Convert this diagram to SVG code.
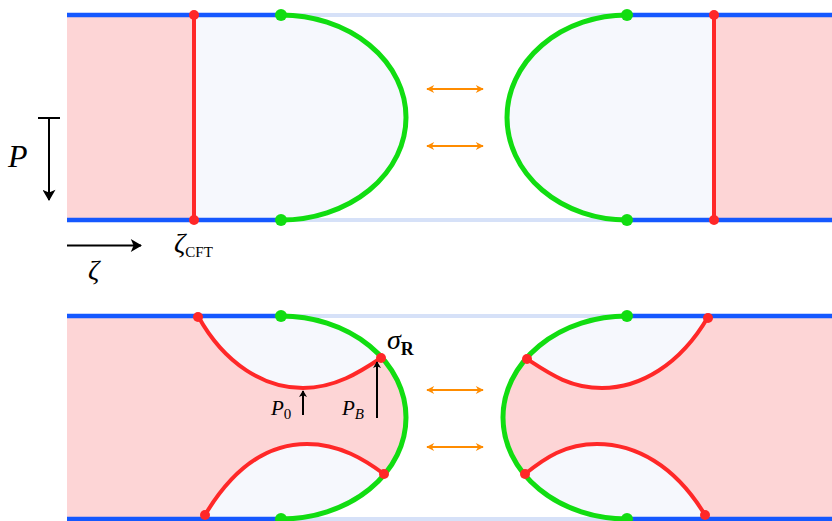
<svg xmlns="http://www.w3.org/2000/svg" width="832" height="521" viewBox="0 0 832 521">
<defs>
<style>
.thick{stroke:#1558ff;stroke-width:4.5;fill:none}
.faint{stroke:#d6e1f8;stroke-width:4;fill:none}
.green{stroke:#11dd11;stroke-width:5;fill:none}
.red{stroke:#ff2828;stroke-width:4;fill:none}
.pink{fill:#fdd5d6;stroke:none}
.lblue{fill:#f6f8fd;stroke:none}
.gdot{fill:#11dd11}
.rdot{fill:#ff2828}
.orange{stroke:#ff8c00;stroke-width:2;fill:none;marker-start:url(#oh);marker-end:url(#oh)}
.blk{stroke:#000;stroke-width:2;fill:none}
text{fill:#000;font-family:"Times New Roman","Liberation Serif","DejaVu Serif",serif}
</style>
<marker id="oh" viewBox="0 0 10 10" refX="9" refY="5" markerWidth="9" markerHeight="8" orient="auto-start-reverse" markerUnits="userSpaceOnUse">
<path d="M0,0 L10,5 L0,10 L3,5 Z" fill="#ff8c00"/>
</marker>
<marker id="bh" viewBox="0 0 12 14" refX="11" refY="7" markerWidth="12" markerHeight="13" orient="auto" markerUnits="userSpaceOnUse">
<path d="M0,0 L12,7 L0,14 L3,7 Z" fill="#000"/>
</marker>
<marker id="sh" viewBox="0 0 10 12" refX="9" refY="6" markerWidth="8" markerHeight="8" orient="auto" markerUnits="userSpaceOnUse">
<path d="M0,0 L10,6 L0,12 L2.5,6 Z" fill="#000"/>
</marker>
</defs>

<!-- Top panel -->
<g id="top-left">
<rect class="pink" x="67" y="15" width="127" height="205"/>
<path class="lblue" d="M194,15 L281,15 A125,102.5 0 0 1 281,220 L194,220 Z"/>
<line class="faint" x1="281" y1="15" x2="627" y2="15"/>
<line class="faint" x1="281" y1="220" x2="627" y2="220"/>
<line class="thick" x1="67" y1="15" x2="281" y2="15"/>
<line class="thick" x1="67" y1="220" x2="281" y2="220"/>
<line class="red" x1="194" y1="15" x2="194" y2="220"/>
<path class="green" d="M281,15 A125,102.5 0 0 1 281,220"/>
<circle class="rdot" cx="194" cy="15" r="5"/>
<circle class="rdot" cx="194" cy="220" r="5"/>
<circle class="gdot" cx="281" cy="15" r="6"/>
<circle class="gdot" cx="281" cy="220" r="6"/>
</g>

<g id="top-right">
<rect class="pink" x="714" y="15" width="118" height="205"/>
<path class="lblue" d="M714,15 L627,15 A120,102.5 0 0 0 627,220 L714,220 Z"/>
<line class="thick" x1="627" y1="15" x2="832" y2="15"/>
<line class="thick" x1="627" y1="220" x2="832" y2="220"/>
<line class="red" x1="714" y1="15" x2="714" y2="220"/>
<path class="green" d="M627,15 A120,102.5 0 0 0 627,220"/>
<circle class="rdot" cx="714" cy="15" r="5"/>
<circle class="rdot" cx="714" cy="220" r="5"/>
<circle class="gdot" cx="627" cy="15" r="6"/>
<circle class="gdot" cx="627" cy="220" r="6"/>
</g>

<!-- Bottom panel -->
<g id="bottom-left">
<path class="lblue" d="M190,316 L281,316 A125,101.5 0 0 1 281,519 L190,519 Z"/>
<path class="pink" d="M67,316 L198,316 C225,365 265,388 303,388 C335,388 360,372 381,358 A125,101.5 0 0 1 384,474 C365,460 340,444 307,444 C270,444 235,465 205,515 L205,519 L67,519 Z"/>
<line class="faint" x1="281" y1="316" x2="627" y2="316"/>
<line class="faint" x1="281" y1="519" x2="627" y2="519"/>
<line class="thick" x1="67" y1="316" x2="281" y2="316"/>
<line class="thick" x1="67" y1="519" x2="281" y2="519"/>
<path class="green" d="M281,316 A125,101.5 0 0 1 281,519"/>
<path class="red" d="M198,316 C225,365 265,388 303,388 C335,388 360,372 381,358"/>
<path class="red" d="M205,515 C235,465 270,444 307,444 C340,444 365,460 384,474"/>
<circle class="rdot" cx="198" cy="317" r="5"/>
<circle class="rdot" cx="381" cy="358" r="5"/>
<circle class="rdot" cx="384" cy="474" r="5"/>
<circle class="rdot" cx="205" cy="515" r="5"/>
<circle class="gdot" cx="281" cy="316" r="6"/>
<circle class="gdot" cx="281" cy="519" r="6"/>
</g>

<g id="bottom-right">
<path class="lblue" d="M712,316 L627,316 A124,101.5 0 0 0 627,519 L712,519 Z"/>
<path class="pink" d="M832,316 L708,316 C680,365 640,388 602,388 C570,388 550,374 527,359 A124,101.5 0 0 0 525,474 C545,458 565,444 597,444 C635,444 675,465 705,515 L705,519 L832,519 Z"/>
<line class="thick" x1="627" y1="316" x2="832" y2="316"/>
<line class="thick" x1="627" y1="519" x2="832" y2="519"/>
<path class="green" d="M627,316 A124,101.5 0 0 0 627,519"/>
<path class="red" d="M708,317 C680,365 640,388 602,388 C570,388 550,374 527,359"/>
<path class="red" d="M705,515 C675,465 635,444 597,444 C565,444 545,458 525,474"/>
<circle class="rdot" cx="708" cy="318" r="5"/>
<circle class="rdot" cx="527" cy="359" r="5"/>
<circle class="rdot" cx="525" cy="474" r="5"/>
<circle class="rdot" cx="705" cy="515" r="5"/>
<circle class="gdot" cx="627" cy="316" r="6"/>
<circle class="gdot" cx="627" cy="519" r="6"/>
</g>

<g id="connectors">
<line class="orange" x1="427" y1="89" x2="483" y2="89"/>
<line class="orange" x1="427" y1="146" x2="483" y2="146"/>
<line class="orange" x1="427" y1="390" x2="483" y2="390"/>
<line class="orange" x1="427" y1="447" x2="483" y2="447"/>
<line class="blk" x1="38" y1="118" x2="60" y2="118"/>
<line class="blk" x1="49" y1="118" x2="49" y2="200" marker-end="url(#bh)"/>
<line class="blk" x1="67" y1="245.5" x2="141" y2="245.5" marker-end="url(#bh)"/>
<line class="blk" x1="303" y1="415" x2="303" y2="391" stroke-width="1.5" marker-end="url(#sh)"/>
<line class="blk" x1="377" y1="418" x2="377" y2="362" stroke-width="1.5" marker-end="url(#sh)"/>
</g>

<g id="labels">
<text x="8" y="167" font-size="32" font-style="italic">P</text>
<text x="88" y="279" font-size="28" font-style="italic">ζ</text>
<text x="174" y="252" font-size="28"><tspan font-style="italic">ζ</tspan><tspan font-size="15" dy="5">CFT</tspan></text>
<text x="387" y="349" font-size="28"><tspan font-style="italic">σ</tspan><tspan font-size="18" font-weight="bold" dy="6">R</tspan></text>
<text x="271" y="415" font-size="21"><tspan font-style="italic">P</tspan><tspan font-size="15" dy="4">0</tspan></text>
<text x="342" y="415" font-size="21"><tspan font-style="italic">P</tspan><tspan font-style="italic" font-size="15" dy="4">B</tspan></text>
</g>
</svg>
